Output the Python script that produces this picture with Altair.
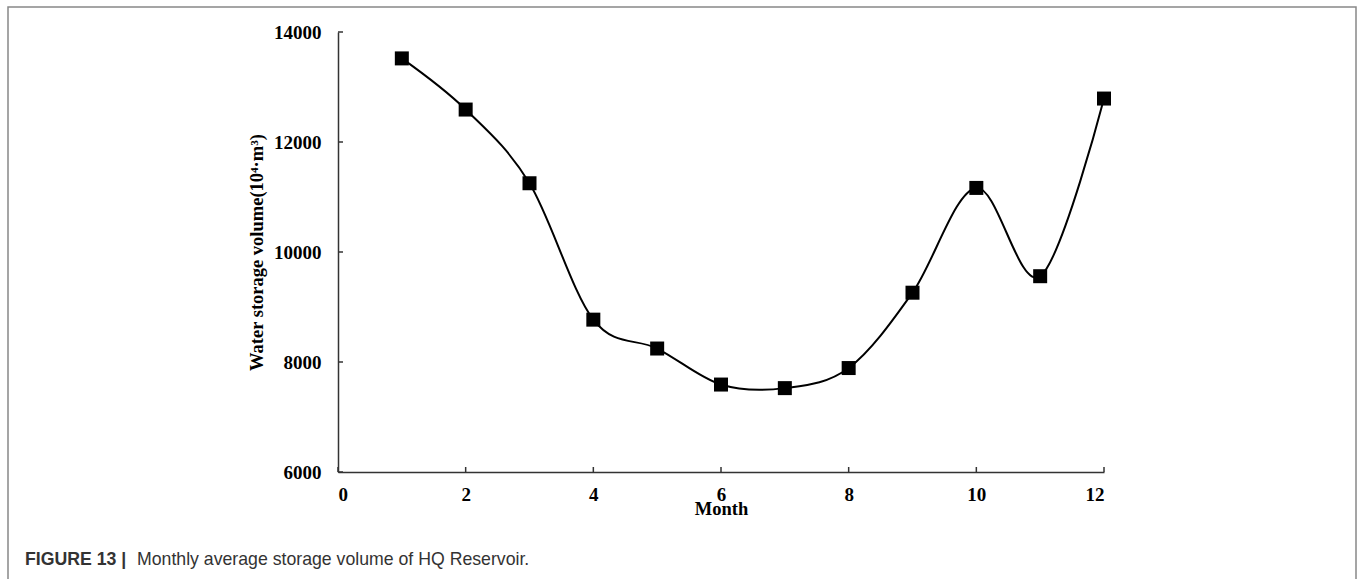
import altair as alt
import pandas as pd

months = [1, 2, 3, 4, 5, 6, 7, 8, 9, 10, 11, 12]
volume = [13520, 12590, 11250, 8770, 8245, 7590, 7525, 7890, 9260, 11165, 9560, 12790]
x_ticks = [0, 2, 4, 6, 8, 10, 12]
y_ticks = [6000, 8000, 10000, 12000, 14000]
caption_bold = "FIGURE 13 |"
caption_text = "Monthly average storage volume of HQ Reservoir."
x_title = "Month"
y_title = "Water storage volume(10\u2074\u00b7m\u00b3)"

df = pd.DataFrame({"month": months, "volume": volume})
xt = pd.DataFrame({"v": x_ticks})
yt = pd.DataFrame({"v": y_ticks})
one = pd.DataFrame({"a": [0]})

W, H = 766, 440
PL, PT = 338, 32

xscale = alt.Scale(domain=[0, 12], nice=False, zero=False)
yscale = alt.Scale(domain=[6000, 14000], nice=False, zero=False)

serif = "Liberation Serif"

xaxis = alt.Axis(values=x_ticks, format="d", ticks=False, grid=False, labelFont=serif,
                 labelFontWeight="bold", labelFontSize=19, labelColor="black", labelPadding=13,
                 domainColor="#333", domainWidth=1.5, title=x_title, titleFont=serif,
                 titleFontWeight="bold", titleFontSize=18.5, titleColor="black",
                 titleBaseline="alphabetic", titleY=42, zindex=1)
yaxis = alt.Axis(values=y_ticks, format="d", ticks=False, grid=False, labelFont=serif,
                 labelFontWeight="bold", labelFontSize=19, labelColor="black", labelPadding=17,
                 domainColor="#333", domainWidth=1.5, title=y_title, titleFont=serif,
                 titleFontWeight="bold", titleFontSize=18.5, titleColor="black",
                 titleBaseline="alphabetic", titleX=-76, zindex=1)

line = alt.Chart(df).mark_line(color="black", strokeWidth=2, interpolate="cardinal").encode(
    x=alt.X("month:Q", scale=xscale, axis=xaxis, title=x_title),
    y=alt.Y("volume:Q", scale=yscale, axis=yaxis, title=y_title),
)
pts = alt.Chart(df).mark_point(shape="square", filled=True, color="black", size=196, opacity=1).encode(
    x=alt.X("month:Q", scale=xscale, axis=xaxis, title=x_title),
    y=alt.Y("volume:Q", scale=yscale, axis=yaxis, title=y_title),
)
ytick = alt.Chart(yt).mark_rule(color="#333", strokeWidth=1.5).encode(
    y=alt.Y("v:Q", scale=yscale, axis=yaxis, title=y_title), x=alt.value(0), x2=alt.value(5)
)
xtick = alt.Chart(xt).mark_rule(color="#333", strokeWidth=1.5).encode(
    x=alt.X("v:Q", scale=xscale, axis=xaxis, title=x_title), y=alt.value(H), y2=alt.value(H - 5)
)
border = alt.Chart(one).mark_rect(fill="transparent", stroke="#888", strokeWidth=1.5).encode(
    x=alt.value(8 - PL), x2=alt.value(1356 - PL), y=alt.value(7 - PT), y2=alt.value(640)
)
cap1 = alt.Chart(pd.DataFrame({"t": [caption_bold]})).mark_text(
    align="left", baseline="alphabetic", font="Liberation Sans", fontWeight="bold",
    fontSize=17.7, color="#333").encode(
    x=alt.value(25 - PL), y=alt.value(565 - PT), text="t:N")
cap2 = alt.Chart(pd.DataFrame({"t": [caption_text]})).mark_text(
    align="left", baseline="alphabetic", font="Liberation Sans", fontWeight="normal",
    fontSize=17.7, color="#333").encode(
    x=alt.value(137 - PL), y=alt.value(565 - PT), text="t:N")

chart = alt.layer(border, line, pts, ytick, xtick, cap1, cap2).properties(
    width=W, height=H,
    padding={"left": PL, "top": PT, "right": 1365 - PL - W, "bottom": 579 - PT - H},
    autosize="none",
    background="white",
).configure_view(stroke="white", strokeWidth=1)

chart.save("out.html", embed_options={"renderer": "svg", "actions": False})
